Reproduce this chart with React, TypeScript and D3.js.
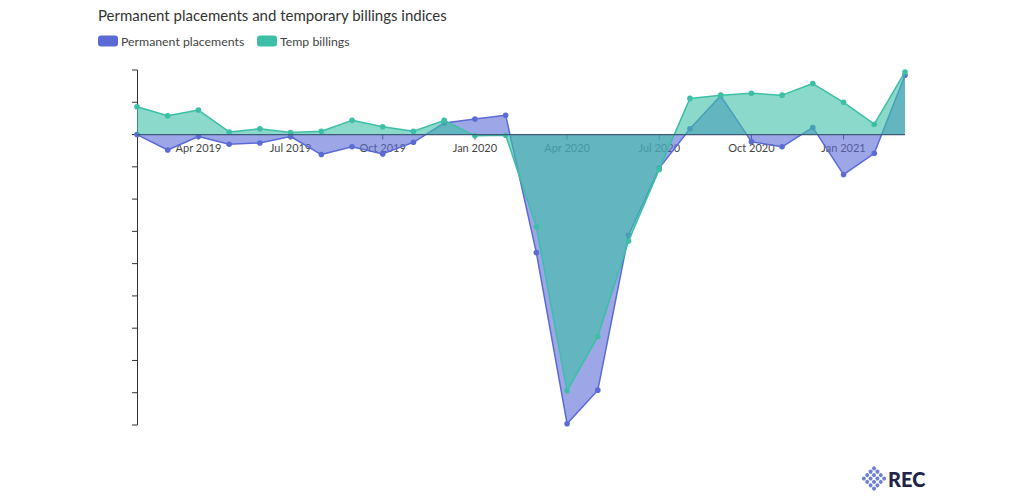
import { useEffect, useRef } from 'react';
import * as d3 from 'd3';

// Monthly index readings (50 = no change), Feb 2019 – Mar 2021
const months = [
  'Feb 2019', 'Mar 2019', 'Apr 2019', 'May 2019', 'Jun 2019', 'Jul 2019', 'Aug 2019',
  'Sep 2019', 'Oct 2019', 'Nov 2019', 'Dec 2019', 'Jan 2020', 'Feb 2020', 'Mar 2020',
  'Apr 2020', 'May 2020', 'Jun 2020', 'Jul 2020', 'Aug 2020', 'Sep 2020', 'Oct 2020',
  'Nov 2020', 'Dec 2020', 'Jan 2021', 'Feb 2021', 'Mar 2021',
];
const permanent = [
  50.0, 47.6, 49.7, 48.5, 48.7, 49.7, 46.9, 48.1, 47.0, 48.8, 51.8, 52.4, 53.0,
  31.7, 5.2, 10.4, 34.4, 44.8, 50.9, 56.0, 48.9, 48.1, 51.1, 43.8, 47.1, 59.2,
];
const temp = [
  54.3, 52.9, 53.8, 50.4, 50.9, 50.3, 50.5, 52.2, 51.2, 50.5, 52.2, 49.8, 49.9,
  35.7, 10.3, 18.7, 33.5, 44.6, 55.6, 56.1, 56.4, 56.1, 57.9, 55.0, 51.6, 59.7,
];
const tickLabels = ['Apr 2019', 'Jul 2019', 'Oct 2019', 'Jan 2020', 'Apr 2020', 'Jul 2020', 'Oct 2020', 'Jan 2021'];
const yTicks = [5, 10, 15, 20, 25, 30, 35, 40, 45, 50, 55, 60];

const BLUE = '#5b6bd5';
const GREEN = '#3cbfa6';
const FONT = 'Lato, "Open Sans", sans-serif';

export default function App() {
  const svgRef = useRef<SVGSVGElement>(null);

  useEffect(() => {
    document.body.style.margin = '0';
    if (!svgRef.current) return;
    const svg = d3.select(svgRef.current);
    svg.selectAll('*').remove();

    const x = d3.scaleLinear().domain([0, months.length - 1]).range([137, 905]);
    const y = d3.scaleLinear().domain([5, 60]).range([425, 70]);
    const base = y(50);

    // Title + legend
    svg.append('text').attr('x', 98).attr('y', 21).attr('font-family', FONT).attr('font-size', 15)
      .attr('fill', '#333').text('Permanent placements and temporary billings indices');
    const legend = [
      { name: 'Permanent placements', color: BLUE, x: 98 },
      { name: 'Temp billings', color: GREEN, x: 257 },
    ];
    legend.forEach(l => {
      svg.append('rect').attr('x', l.x).attr('y', 35.5).attr('width', 20).attr('height', 11).attr('rx', 3)
        .attr('fill', l.color);
      svg.append('text').attr('x', l.x + 23).attr('y', 45.5).attr('font-family', FONT).attr('font-size', 12.3)
        .attr('fill', '#444').text(l.name);
    });

    // Y axis, no labels
    const ax = svg.append('g').attr('stroke', '#333').attr('stroke-width', 1);
    ax.append('line').attr('x1', 137.5).attr('x2', 137.5).attr('y1', y(60)).attr('y2', y(5));
    yTicks.forEach(t => {
      ax.append('line').attr('x1', 132).attr('x2', 137.5).attr('y1', y(t)).attr('y2', y(t));
    });

    // X labels sit under the areas
    tickLabels.forEach(lbl => {
      const i = months.indexOf(lbl);
      svg.append('line').attr('x1', x(i)).attr('x2', x(i)).attr('y1', base).attr('y2', base + 5)
        .attr('stroke', '#444').attr('stroke-width', 1);
      svg.append('text').attr('x', x(i)).attr('y', base + 17).attr('text-anchor', 'middle')
        .attr('font-family', FONT).attr('font-size', 11).attr('fill', '#444').text(lbl);
    });

    const drawSeries = (vals: number[], color: string) => {
      const area = d3.area<number>().x((_, i) => x(i)).y0(base).y1(d => y(d));
      const line = d3.line<number>().x((_, i) => x(i)).y(d => y(d));
      svg.append('path').datum(vals).attr('d', area).attr('fill', color).attr('fill-opacity', 0.6);
      svg.append('path').datum(vals).attr('d', line).attr('fill', 'none').attr('stroke', color)
        .attr('stroke-width', 1.5).attr('stroke-linejoin', 'round');
      svg.append('g').selectAll('circle').data(vals).enter().append('circle')
        .attr('cx', (_, i) => x(i)).attr('cy', d => y(d)).attr('r', 2.8).attr('fill', color);
    };
    drawSeries(permanent, BLUE);
    drawSeries(temp, GREEN);

    // zero line
    svg.append('line').attr('x1', 137).attr('x2', 905).attr('y1', base).attr('y2', base)
      .attr('stroke', '#3f5a78').attr('stroke-width', 1.2);

    // REC logo
    const logo = svg.append('g').attr('transform', 'translate(874,478.5) rotate(45)');
    const grid = [0, 1, 2, 3];
    grid.forEach(r => grid.forEach(c => {
      logo.append('circle').attr('cx', (c - 1.5) * 4.8).attr('cy', (r - 1.5) * 4.8).attr('r', 2)
        .attr('fill', '#6f7fd6');
    }));
    svg.append('text').attr('x', 888).attr('y', 486.5).attr('font-family', FONT).attr('font-weight', 900)
      .attr('font-size', 20).attr('fill', '#1f2448').text('REC');
  }, []);

  return <svg ref={svgRef} width={1024} height={500} style={{ display: 'block' }} />;
}
